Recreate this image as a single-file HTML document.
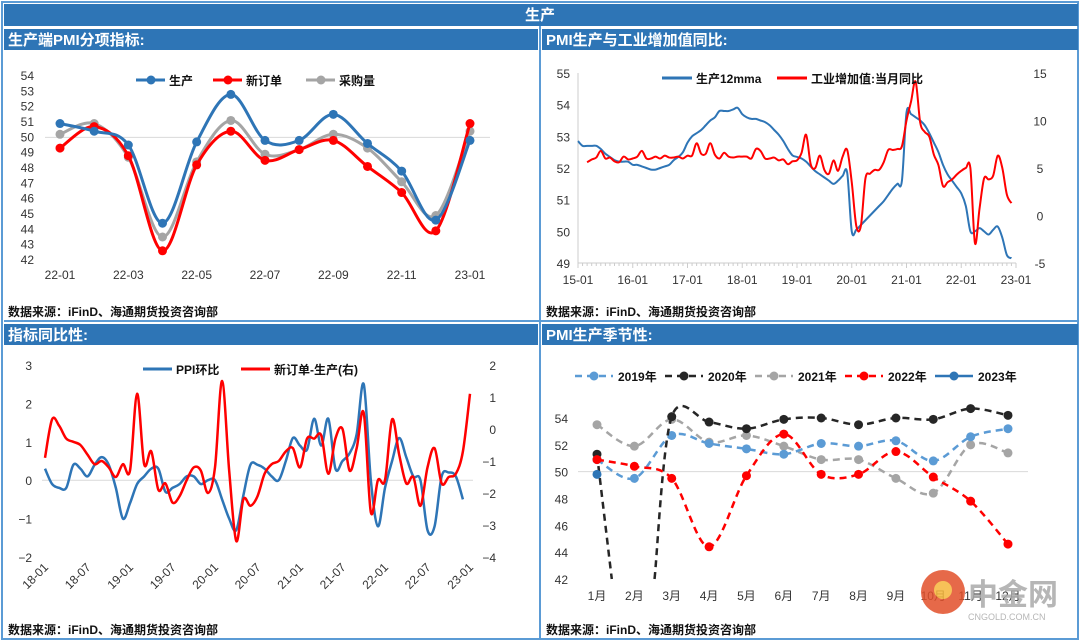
<!DOCTYPE html>
<html><head><meta charset="utf-8">
<style>
html,body{margin:0;padding:0;background:#fff;width:1080px;height:642px;overflow:hidden;}
svg{display:block;font-family:"Liberation Sans","Noto Sans CJK SC",sans-serif;}
.tb{font-weight:bold;fill:#fff;font-size:15px;font-family:"Liberation Sans","Noto Sans CJK SC",sans-serif;}
.ax{font-size:12px;fill:#333;}
.lg{font-size:12px;font-weight:bold;fill:#111;}
.src{font-size:12px;font-weight:bold;fill:#111;}
</style></head>
<body>
<svg id="s" width="1080" height="642" viewBox="0 0 1080 642" xmlns="http://www.w3.org/2000/svg">
<rect x="0" y="0" width="1080" height="642" fill="#fff"/>
<rect x="2" y="2" width="1076" height="637" fill="none" stroke="#5B9BD5" stroke-width="2"/>
<rect x="4" y="4" width="1074" height="22" fill="#2E75B6"/>
<text x="540" y="20" class="tb" text-anchor="middle">生产</text>
<rect x="4" y="29" width="534" height="21" fill="#2E75B6"/>
<text x="8" y="45" class="tb">生产端PMI分项指标:</text>
<rect x="542" y="29" width="536" height="21" fill="#2E75B6"/>
<text x="546" y="45" class="tb">PMI生产与工业增加值同比:</text>
<rect x="4" y="324" width="534" height="21" fill="#2E75B6"/>
<text x="8" y="340" class="tb">指标同比性:</text>
<rect x="542" y="324" width="536" height="21" fill="#2E75B6"/>
<text x="546" y="340" class="tb">PMI生产季节性:</text>
<line x1="540" y1="26" x2="540" y2="639" stroke="#5B9BD5" stroke-width="2"/>
<line x1="4" y1="321" x2="1078" y2="321" stroke="#5B9BD5" stroke-width="2"/>
<text x="8" y="316" class="src">数据来源：iFinD、海通期货投资咨询部</text>
<text x="546" y="316" class="src">数据来源：iFinD、海通期货投资咨询部</text>
<text x="8" y="634" class="src">数据来源：iFinD、海通期货投资咨询部</text>
<text x="546" y="634" class="src">数据来源：iFinD、海通期货投资咨询部</text>
<g id="p1"></g><g id="p2"></g><g id="p3"></g><g id="p4"></g>
<g opacity="0.85">
<circle cx="943" cy="592" r="22" fill="#E2502A"/>
<circle cx="943" cy="590" r="9" fill="#F6B73C"/>
<text x="968" y="605" font-size="30" font-weight="bold" fill="#aaa">中金网</text>
<text x="968" y="620" font-size="9" fill="#aaa">CNGOLD.COM.CN</text>
</g>
</svg>
<script>
// ---- Panel 1 data ----
const p1Cats = ['22-01','22-02','22-03','22-04','22-05','22-06','22-07','22-08','22-09','22-10','22-11','22-12','23-01'];
const p1Prod = [50.9,50.4,49.5,44.4,49.7,52.8,49.8,49.8,51.5,49.6,47.8,44.6,49.8];
const p1Order = [49.3,50.7,48.8,42.6,48.2,50.4,48.5,49.2,49.8,48.1,46.4,43.9,50.9];
const p1Purch = [50.2,50.9,48.7,43.5,48.4,51.1,48.9,49.2,50.2,49.3,47.1,44.9,50.4];
const p1Ticks = [42,43,44,45,46,47,48,49,50,51,52,53,54];
// ---- Panel 2 data (monthly from 2015-01 / 2015-03) ----
const p2XTicks = ['15-01','16-01','17-01','18-01','19-01','20-01','21-01','22-01','23-01'];
const p2Pmi12 = [52.85,52.7,52.7,52.7,52.7,52.6,52.45,52.35,52.25,52.2,52.2,52.2,
52.1,52.1,52.05,52.0,51.95,51.95,52.0,52.05,52.1,52.25,52.35,52.5,
52.8,53.0,53.1,53.2,53.35,53.5,53.6,53.8,53.8,53.8,53.85,53.9,
53.7,53.6,53.55,53.55,53.5,53.45,53.35,53.2,53.05,52.85,52.6,52.4,
52.35,52.3,52.2,52.05,51.9,51.8,51.7,51.6,51.5,51.6,51.75,51.85,
50.0,50.05,50.2,50.35,50.5,50.65,50.8,50.95,51.15,51.35,51.5,51.6,
53.75,53.7,53.6,53.5,53.35,53.1,52.8,52.5,52.1,51.8,51.6,51.4,
51.2,50.8,50.0,50.0,50.1,50.0,49.9,50.05,50.15,49.8,49.25,49.15];
const p2Ind = [5.6,5.9,6.1,6.8,6.0,6.1,5.7,5.6,6.2,5.9,
6.0,6.2,6.8,6.0,6.0,6.2,6.0,6.3,6.1,6.1,6.2,6.0,
6.3,6.3,7.6,6.5,6.5,7.6,6.4,6.0,6.6,6.2,6.1,6.2,
6.2,6.2,6.0,7.0,6.8,6.0,6.0,6.1,5.8,5.9,5.4,5.7,
5.8,6.6,8.5,5.4,5.0,6.3,4.8,4.4,5.8,4.7,6.2,6.9,
3.5,-1.1,-1.1,3.9,4.4,4.8,4.8,5.6,6.9,6.9,7.0,7.3,
10.0,12.0,14.1,9.8,8.8,8.3,6.4,5.3,3.1,3.5,3.8,4.3,
4.7,5.0,5.0,-2.9,0.7,3.9,3.8,4.2,6.3,5.0,2.2,1.3];
const p2LTicks = [49,50,51,52,53,54,55];
const p2RTicks = [-5,0,5,10,15];
// ---- Panel 3 data (monthly from 2018-01) ----
const p3XTicks = ['18-01','18-07','19-01','19-07','20-01','20-07','21-01','21-07','22-01','22-07','23-01'];
const p3Ppi = [0.3,-0.1,-0.2,-0.2,0.4,0.3,0.1,0.4,0.6,0.4,-0.2,-1.0,
-0.6,-0.1,0.1,0.3,0.3,-0.3,-0.2,-0.1,0.1,0.1,-0.1,0.0,
0.0,-0.5,-1.0,-1.3,-0.4,0.4,0.4,0.3,0.1,0.0,0.5,1.1,
0.9,0.8,1.6,0.9,1.6,0.3,0.5,0.7,1.2,2.5,0.0,-1.2,
-0.2,0.5,1.1,0.6,0.1,0.0,-1.3,-1.2,0.1,0.2,0.1,-0.5];
const p3Diff = [-0.9,0.3,0.1,-0.3,-0.4,-0.5,-0.8,-1.1,-1.0,-1.2,-1.5,-1.1,
-1.3,1.1,-1.1,-0.7,-1.9,-1.7,-2.3,-2.1,-1.6,-1.2,-1.3,-2.0,
-1.2,1.5,-1.3,-3.5,-2.2,-2.4,-2.1,-1.4,-1.1,-1.0,-0.7,-0.6,
-1.2,-0.3,-0.3,-0.2,-1.4,-0.3,0.0,-1.3,-0.6,0.5,-2.6,-1.6,
-1.6,0.3,-0.8,-1.7,-1.5,-2.4,-1.2,-0.6,-1.7,-1.5,-1.4,-0.7,1.1];
const p3LTicks = [-2,-1,0,1,2,3];
const p3RTicks = [-4,-3,-2,-1,0,1,2];
// ---- Panel 4 data ----
const p4Cats = ['1月','2月','3月','4月','5月','6月','7月','8月','9月','10月','11月','12月'];
const p4Y2019 = [50.9,49.5,52.7,52.1,51.7,51.3,52.1,51.9,52.3,50.8,52.6,53.2];
const p4Y2020 = [51.3,27.8,54.1,53.7,53.2,53.9,54.0,53.5,54.0,53.9,54.7,54.2];
const p4Y2021 = [53.5,51.9,53.9,52.2,52.7,51.9,50.9,50.9,49.5,48.4,52.0,51.4];
const p4Y2022 = [50.9,50.4,49.5,44.4,49.7,52.8,49.8,49.8,51.5,49.6,47.8,44.6];
const p4Y2023 = [49.8];
const p4Ticks = [42,44,46,48,50,52,54];

const NS='http://www.w3.org/2000/svg';
function mk(parent,tag,attrs,txt){const e=document.createElementNS(NS,tag);for(const k in attrs)e.setAttribute(k,attrs[k]);if(txt!==undefined)e.textContent=txt;parent.appendChild(e);return e;}
function lin(d0,d1,r0,r1){return v=>r0+(v-d0)*(r1-r0)/(d1-d0);}
function smooth(pts){if(pts.length<2)return '';let d='M'+pts[0][0]+','+pts[0][1];for(let i=0;i<pts.length-1;i++){const p0=pts[i-1]||pts[i],p1=pts[i],p2=pts[i+1],p3=pts[i+2]||p2;const c1x=p1[0]+(p2[0]-p0[0])/6,c1y=p1[1]+(p2[1]-p0[1])/6,c2x=p2[0]-(p3[0]-p1[0])/6,c2y=p2[1]-(p3[1]-p1[1])/6;d+=' C'+c1x+','+c1y+' '+c2x+','+c2y+' '+p2[0]+','+p2[1];}return d;}

// Panel 1
(function(){const g=document.getElementById('p1');
const x=lin(0,12,60,470), y=lin(42,54,260,76);
mk(g,'line',{x1:45,x2:490,y1:y(50),y2:y(50),stroke:'#d9d9d9','stroke-width':1});
p1Ticks.forEach(t=>{const e=mk(g,'text',{x:34,y:y(t)+4,'text-anchor':'end',class:'ax'},t);

});
p1Cats.forEach((c,i)=>{if(i%2==0){const e=mk(g,'text',{x:x(i),y:279,'text-anchor':'middle',class:'ax'},c);

}});
[[p1Purch,'#A5A5A5','purchase'],[p1Order,'#FF0000','new-orders'],[p1Prod,'#2E75B6','production']].forEach(([arr,col,nm])=>{
const pts=arr.map((v,i)=>[x(i),y(v)]);
const p=mk(g,'path',{d:smooth(pts),fill:'none',stroke:col,'stroke-width':3});


pts.forEach(q=>{const c=mk(g,'circle',{cx:q[0],cy:q[1],r:4.5,fill:col});

});});
[[136,'#2E75B6','生产','production'],[213,'#FF0000','新订单','new-orders'],[306,'#A5A5A5','采购量','purchase']].forEach(([lx,col,t,nm])=>{
const lg=mk(g,'g',{});


mk(lg,'line',{x1:lx,x2:lx+29,y1:80,y2:80,stroke:col,'stroke-width':3});
mk(lg,'circle',{cx:lx+15,cy:80,r:4.5,fill:col});
mk(lg,'text',{x:lx+33,y:85,class:'lg','font-size':'14'},t);});
})();

// Panel 2
(function(){const g=document.getElementById('p2');
const x=lin(0,96,578,1016), yl=lin(49,55,263,73), yr=lin(-5,15,263,73);
mk(g,'line',{x1:578,x2:578,y1:73,y2:263,stroke:'#ccc'});
mk(g,'line',{x1:578,x2:1016,y1:263,y2:263,stroke:'#ccc'});
for(let m=0;m<=96;m++){mk(g,'line',{x1:x(m),x2:x(m),y1:263,y2:m%12==0?268:266,stroke:'#ccc'});}
p2LTicks.forEach(t=>{const e=mk(g,'text',{x:570,y:yl(t)+5,'text-anchor':'end',class:'ax','font-size':'13'},t);

});
p2RTicks.forEach(t=>{const e=mk(g,'text',{x:1040,y:yr(t)+5,'text-anchor':'middle',class:'ax','font-size':'13'},t);

});
p2XTicks.forEach((c,i)=>{const e=mk(g,'text',{x:x(i*12),y:284,'text-anchor':'middle',class:'ax','font-size':'13'},c);

});
const bp=mk(g,'path',{d:smooth(p2Pmi12.map((v,i)=>[x(i),yl(v)])),fill:'none',stroke:'#2E75B6','stroke-width':2});


const rp=mk(g,'path',{d:smooth(p2Ind.map((v,i)=>[x(i+2),yr(v)])),fill:'none',stroke:'#FF0000','stroke-width':2});


[[662,'#2E75B6','生产12mma','pmi'],[777,'#FF0000','工业增加值:当月同比','industrial']].forEach(([lx,col,t,nm])=>{
const lg=mk(g,'g',{});


mk(lg,'line',{x1:lx,x2:lx+30,y1:78,y2:78,stroke:col,'stroke-width':3});
mk(lg,'text',{x:lx+34,y:83,class:'lg'},t);});
})();

// Panel 3
(function(){const g=document.getElementById('p3');
const x=lin(0,60,45,470), yl=lin(-2,3,557,365), yr=lin(-4,2,557,365);
mk(g,'line',{x1:42,x2:473,y1:yl(0),y2:yl(0),stroke:'#d9d9d9'});
p3LTicks.forEach(t=>{const e=mk(g,'text',{x:32,y:yl(t)+5,'text-anchor':'end',class:'ax','font-size':'13'},t<0?'−'+(-t):t);

});
p3RTicks.forEach(t=>{const e=mk(g,'text',{x:496,y:yr(t)+5,'text-anchor':'end',class:'ax','font-size':'13'},t<0?'−'+(-t):t);

});
p3XTicks.forEach((c,i)=>{const tx=x(i*6)+4, ty=568;const e=mk(g,'text',{x:tx,y:ty,'text-anchor':'end',class:'ax','font-size':'13',transform:'rotate(-45 '+tx+' '+ty+')'},c);

});
const bp=mk(g,'path',{d:smooth(p3Ppi.map((v,i)=>[x(i),yl(v)])),fill:'none',stroke:'#2E75B6','stroke-width':2.5});


const rp=mk(g,'path',{d:smooth(p3Diff.map((v,i)=>[x(i),yr(v)])),fill:'none',stroke:'#FF0000','stroke-width':2.5});


[[143,'#2E75B6','PPI环比','ppi'],[241,'#FF0000','新订单-生产(右)','diff']].forEach(([lx,col,t,nm])=>{
const lg=mk(g,'g',{});


mk(lg,'line',{x1:lx,x2:lx+29,y1:369,y2:369,stroke:col,'stroke-width':3});
mk(lg,'text',{x:lx+33,y:374,class:'lg'},t);});
})();

// Panel 4
(function(){const g=document.getElementById('p4');
const MIN=42;
const x=lin(0,11,597,1008), y=lin(42,54,579,418);
mk(g,'line',{x1:578,x2:1028,y1:y(50),y2:y(50),stroke:'#d9d9d9'});
p4Ticks.forEach(t=>{const e=mk(g,'text',{x:568,y:y(t)+5,'text-anchor':'end',class:'ax','font-size':'13'},t);

});
p4Cats.forEach((c,i)=>{const e=mk(g,'text',{x:x(i),y:600,'text-anchor':'middle',class:'ax','font-size':'13'},c);

});
function runs(arr){const out=[];let cur=[];
for(let i=0;i<arr.length;i++){const v=arr[i];
if(v>=MIN){if(cur.length===0&&i>0&&arr[i-1]<MIN){const f=(MIN-arr[i-1])/(v-arr[i-1]);cur.push([x(i-1+f),y(MIN)]);}
cur.push([x(i),y(v)]);}
else{if(cur.length&&i>0){const f=(arr[i-1]-MIN)/(arr[i-1]-v);cur.push([x(i-1+f),y(MIN)]);}
if(cur.length)out.push(cur);cur=[];}}
if(cur.length)out.push(cur);return out;}
const series=[[p4Y2021,'#A5A5A5','2021'],[p4Y2019,'#5B9BD5','2019'],[p4Y2020,'#262626','2020'],[p4Y2022,'#FF0000','2022'],[p4Y2023,'#2E75B6','2023']];
series.forEach(([arr,col,nm])=>{const sg=mk(g,'g',{});


runs(arr).forEach(r=>{if(r.length>1){const lp=mk(sg,'path',{d:smooth(r),fill:'none',stroke:col,'stroke-width':2.5,'stroke-dasharray':'7,5'});

}});
arr.forEach((v,i)=>{if(v<MIN)return;const c=mk(sg,'circle',{cx:x(i),cy:y(v),r:4.5,fill:col});

});});
[[575,'#5B9BD5','2019年',true],[665,'#262626','2020年',true],[755,'#A5A5A5','2021年',true],[845,'#FF0000','2022年',true],[935,'#2E75B6','2023年',false]].forEach(([lx,col,t,dash])=>{
const lg=mk(g,'g',{});


const a={x1:lx,x2:lx+38,y1:376,y2:376,stroke:col,'stroke-width':2.5};if(dash)a['stroke-dasharray']='7,5';
mk(lg,'line',a);
mk(lg,'circle',{cx:lx+19,cy:376,r:4.5,fill:col});
mk(lg,'text',{x:lx+43,y:381,class:'lg','font-size':'13'},t);});
})();
</script>
</body></html>
